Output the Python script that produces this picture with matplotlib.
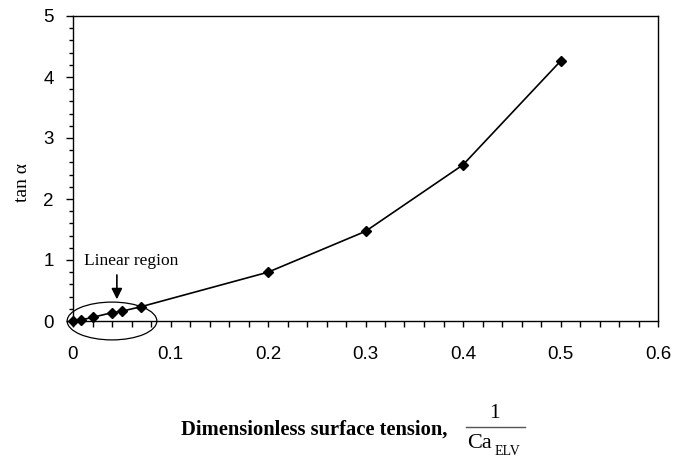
import matplotlib.pyplot as plt
from matplotlib.lines import Line2D
from matplotlib.patches import Ellipse
from matplotlib.ticker import MultipleLocator

# data
inv_ca = [0.0, 0.008, 0.02, 0.04, 0.05, 0.07, 0.2, 0.3, 0.4, 0.5]
tan_alpha = [0.005, 0.016, 0.06, 0.136, 0.16, 0.235, 0.80, 1.47, 2.56, 4.26]
xticks = [0, 0.1, 0.2, 0.3, 0.4, 0.5, 0.6]
xtick_labels = ["0", "0.1", "0.2", "0.3", "0.4", "0.5", "0.6"]

W, H = 673, 457
fig = plt.figure(figsize=(W / 100, H / 100), dpi=100)
ax = fig.add_axes([73 / W, 1 - 321 / H, (658 - 73) / W, (321 - 16) / H])

ax.plot(inv_ca, tan_alpha, color="black", lw=1.2, marker="D", ms=5.5,
        clip_on=False, zorder=3)

ax.set_xlim(0, 0.6)
ax.set_ylim(0, 5)
ax.set_xticks(xticks)
ax.set_xticklabels(xtick_labels)
ax.xaxis.set_minor_locator(MultipleLocator(0.02))
ax.yaxis.set_major_locator(MultipleLocator(1))
ax.yaxis.set_minor_locator(MultipleLocator(0.2))

for lab in ax.get_xticklabels() + ax.get_yticklabels():
    lab.set_family("Liberation Sans")
    lab.set_fontsize(13.5)
ax.tick_params(axis="x", which="both", direction="out", length=4, width=1, pad=14)
ax.tick_params(axis="y", which="major", direction="out", length=5, width=1, pad=9)
ax.tick_params(axis="y", which="minor", direction="out", length=3, width=1)
for s in ax.spines.values():
    s.set_linewidth(1.0)

# linear region marker
ax.add_patch(Ellipse((0.04, 0.0), 0.092, 0.62, fill=False, lw=0.9,
                     color="black", clip_on=False))
ax.annotate("", xy=(0.045, 0.31), xytext=(0.045, 0.80),
            arrowprops=dict(arrowstyle="-|>", color="black", lw=1.2,
                            mutation_scale=16))
ax.text(0.011, 0.99, "Linear region", family="Liberation Serif", fontsize=12.5,
        va="center", ha="left")

fig.text(23 / W, 1 - 183 / H, "tan α", family="Liberation Serif",
         fontsize=14, rotation=90, ha="center", va="center")

# x label: bold text followed by a stacked fraction 1 / Ca_ELV
fig.text(181 / W, 1 - 435 / H, "Dimensionless surface tension,",
         family="Liberation Serif", weight="bold", fontsize=14.8,
         ha="left", va="baseline")
fig.text(494 / W, 1 - 418 / H, "1", family="Liberation Serif", fontsize=15.5,
         ha="center", va="baseline")
fig.add_artist(Line2D([466 / W, 525 / W], [1 - 426.5 / H, 1 - 426.5 / H],
                      color="#555555", lw=1.0, transform=fig.transFigure))
fig.text(467 / W, 1 - 448 / H, "Ca", family="Liberation Serif", fontsize=16,
         ha="left", va="baseline")
fig.text(495 / W, 1 - 455 / H, "ELV", family="Liberation Serif", fontsize=10,
         ha="left", va="baseline")

plt.savefig("out.png", dpi=100)
